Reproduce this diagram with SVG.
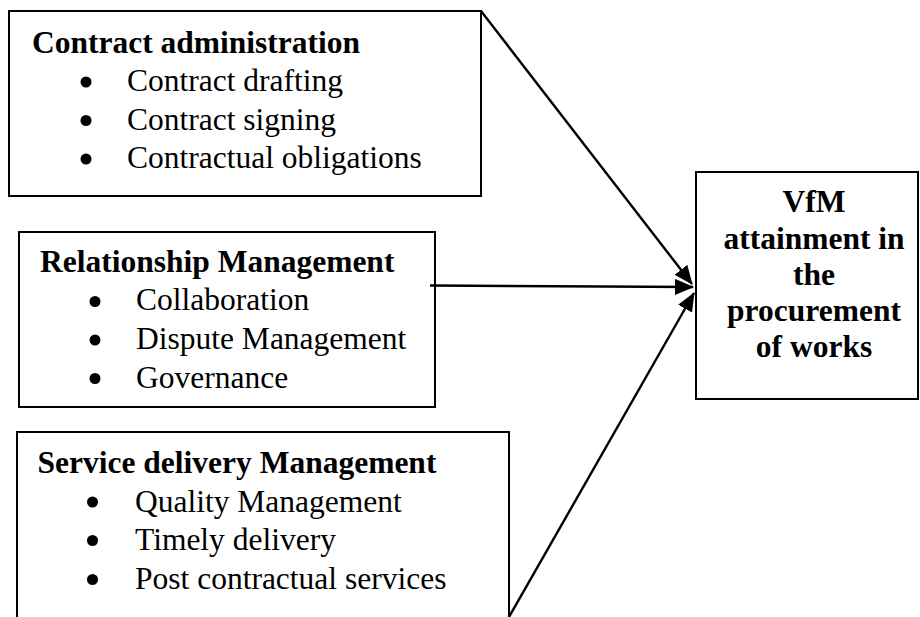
<svg xmlns="http://www.w3.org/2000/svg" width="920" height="617" viewBox="0 0 920 617">
  <defs>
    <style>
      .box { fill: #ffffff; stroke: #000000; stroke-width: 2; }
      .head { font-family: "Liberation Serif", "Times New Roman", serif; font-size: 31.5px; font-weight: bold; fill: #000000; }
      .item { font-family: "Liberation Serif", "Times New Roman", serif; font-size: 31.5px; fill: #000000; }
      .bullet { fill: #000000; }
      .link { stroke: #000000; stroke-width: 2.4; fill: none; marker-end: url(#arrow); }
    </style>
    <marker id="arrow" markerUnits="userSpaceOnUse" markerWidth="22" markerHeight="18" refX="18" refY="8" orient="auto">
      <path d="M0,0 L19,8 L0,16 Z" fill="#000000"/>
    </marker>
  </defs>

  <rect width="920" height="617" fill="#ffffff"/>

  <!-- Contract administration -->
  <g id="contract-administration">
    <rect class="box" x="9" y="11" width="472" height="185"/>
    <text class="head" x="32" y="53">Contract administration</text>
    <circle class="bullet" cx="86" cy="82" r="5.5"/>
    <text class="item" x="127" y="91">Contract drafting</text>
    <circle class="bullet" cx="86" cy="120.5" r="5.5"/>
    <text class="item" x="127" y="129.5">Contract signing</text>
    <circle class="bullet" cx="86" cy="159" r="5.5"/>
    <text class="item" x="127" y="168">Contractual obligations</text>
  </g>

  <!-- Relationship Management -->
  <g id="relationship-management">
    <rect class="box" x="19" y="232" width="416" height="175"/>
    <text class="head" x="40" y="272">Relationship Management</text>
    <circle class="bullet" cx="95" cy="301.5" r="5.5"/>
    <text class="item" x="136" y="310">Collaboration</text>
    <circle class="bullet" cx="95" cy="340" r="5.5"/>
    <text class="item" x="136" y="349">Dispute Management</text>
    <circle class="bullet" cx="95" cy="378.5" r="5.5"/>
    <text class="item" x="136" y="387.5">Governance</text>
  </g>

  <!-- Service delivery Management (runs past the lower edge) -->
  <g id="service-delivery-management">
    <path class="box" d="M17,632 L17,432 L509,432 L509,632"/>
    <text class="head" x="37.5" y="473">Service delivery Management</text>
    <circle class="bullet" cx="92.5" cy="502" r="5.5"/>
    <text class="item" x="135" y="511.5">Quality Management</text>
    <circle class="bullet" cx="92.5" cy="540.5" r="5.5"/>
    <text class="item" x="135" y="550">Timely delivery</text>
    <circle class="bullet" cx="92.5" cy="579.5" r="5.5"/>
    <text class="item" x="135" y="589">Post contractual services</text>
  </g>

  <!-- VfM outcome -->
  <g id="vfm-attainment">
    <rect class="box" x="696" y="172" width="222" height="227"/>
    <text class="head" text-anchor="middle" x="814" y="212">VfM</text>
    <text class="head" text-anchor="middle" x="814" y="248.5">attainment in</text>
    <text class="head" text-anchor="middle" x="814" y="285">the</text>
    <text class="head" text-anchor="middle" x="814" y="321">procurement</text>
    <text class="head" text-anchor="middle" x="814" y="357">of works</text>
  </g>

  <!-- Connectors -->
  <g id="connectors">
    <line class="link" x1="481" y1="11" x2="692" y2="284"/>
    <line class="link" x1="430" y1="285.5" x2="693" y2="287"/>
    <line class="link" x1="509" y1="617" x2="694" y2="293"/>
  </g>
</svg>
